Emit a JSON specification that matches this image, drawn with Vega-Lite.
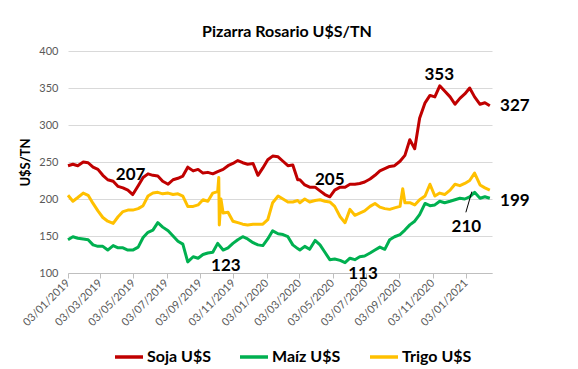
{
  "$schema": "https://vega.github.io/schema/vega-lite/v6.json",
  "width": 424,
  "height": 222,
  "autosize": {"type": "none"},
  "padding": {"left": 68, "top": 51, "right": 86, "bottom": 96},
  "background": "white",
  "config": {"view": {"stroke": null}, "font": "Lato", "axis": {"labelOverlap": false}},
  "title": {"text": "Pizarra Rosario U$S/TN", "fontSize": 16, "font": "Lato", "fontWeight": "bold", "color": "black", "anchor": "middle", "offset": 5, "dx": 7},
  "encoding": {
    "x": {
      "field": "fecha", "type": "temporal",
      "scale": {"type": "utc", "domain": [{"year": 2019, "month": 1, "date": 3, "utc": true}, {"year": 2021, "month": 2, "date": 20, "utc": true}]},
      "axis": {
        "values": [
          {"year": 2019, "month": 1, "date": 3, "utc": true},
          {"year": 2019, "month": 3, "date": 3, "utc": true},
          {"year": 2019, "month": 5, "date": 3, "utc": true},
          {"year": 2019, "month": 7, "date": 3, "utc": true},
          {"year": 2019, "month": 9, "date": 3, "utc": true},
          {"year": 2019, "month": 11, "date": 3, "utc": true},
          {"year": 2020, "month": 1, "date": 3, "utc": true},
          {"year": 2020, "month": 3, "date": 3, "utc": true},
          {"year": 2020, "month": 5, "date": 3, "utc": true},
          {"year": 2020, "month": 7, "date": 3, "utc": true},
          {"year": 2020, "month": 9, "date": 3, "utc": true},
          {"year": 2020, "month": 11, "date": 3, "utc": true},
          {"year": 2021, "month": 1, "date": 3, "utc": true}
        ],
        "labelExpr": "utcFormat(datum.value, '%d/%m/%Y')",
        "labelAngle": -45, "labelAlign": "right", "labelBaseline": "middle",
        "labelPadding": 3, "tickSize": 5, "tickColor": "#BFBFBF", "domainColor": "#BFBFBF",
        "labelColor": "#595959", "labelFontSize": 11, "labelFont": "Lato",
        "grid": false, "title": null, "labelOverlap": false, "labelFlush": false, "labelBound": false
      }
    },
    "y": {
      "field": "valor", "type": "quantitative",
      "scale": {"domain": [100, 400], "zero": false, "nice": false},
      "axis": {
        "values": [100, 150, 200, 250, 300, 350, 400],
        "title": "U$S/TN", "titleFontSize": 13, "titleFontWeight": "bold", "titleColor": "black", "titleFont": "Lato", "titlePadding": 6,
        "labelColor": "#595959", "labelFontSize": 11, "labelFont": "Lato", "labelPadding": 10,
        "ticks": false, "domain": false, "grid": true, "gridColor": "#D9D9D9", "gridWidth": 1
      }
    }
  },
  "layer": [
    {
      "data": {"values": [
        {"fecha": "2019-01-03", "Soja U$S": 245, "Maíz U$S": 145, "Trigo U$S": 205},
        {"fecha": "2019-01-12", "Soja U$S": 247, "Maíz U$S": 149, "Trigo U$S": 197},
        {"fecha": "2019-01-21", "Soja U$S": 245, "Maíz U$S": 147, "Trigo U$S": 202},
        {"fecha": "2019-01-31", "Soja U$S": 250, "Maíz U$S": 146, "Trigo U$S": 208},
        {"fecha": "2019-02-09", "Soja U$S": 249, "Maíz U$S": 145, "Trigo U$S": 205},
        {"fecha": "2019-02-18", "Soja U$S": 243, "Maíz U$S": 138, "Trigo U$S": 194},
        {"fecha": "2019-02-27", "Soja U$S": 240, "Maíz U$S": 136, "Trigo U$S": 184},
        {"fecha": "2019-03-08", "Soja U$S": 232, "Maíz U$S": 136, "Trigo U$S": 175},
        {"fecha": "2019-03-17", "Soja U$S": 226, "Maíz U$S": 131, "Trigo U$S": 170},
        {"fecha": "2019-03-27", "Soja U$S": 224, "Maíz U$S": 137, "Trigo U$S": 167},
        {"fecha": "2019-04-05", "Soja U$S": 217, "Maíz U$S": 134, "Trigo U$S": 176},
        {"fecha": "2019-04-14", "Soja U$S": 215, "Maíz U$S": 134, "Trigo U$S": 183},
        {"fecha": "2019-04-23", "Soja U$S": 212, "Maíz U$S": 131, "Trigo U$S": 185},
        {"fecha": "2019-05-02", "Soja U$S": 206, "Maíz U$S": 131, "Trigo U$S": 185},
        {"fecha": "2019-05-12", "Soja U$S": 218, "Maíz U$S": 135, "Trigo U$S": 187},
        {"fecha": "2019-05-21", "Soja U$S": 229, "Maíz U$S": 148, "Trigo U$S": 191},
        {"fecha": "2019-05-30", "Soja U$S": 234, "Maíz U$S": 155, "Trigo U$S": 204},
        {"fecha": "2019-06-08", "Soja U$S": 232, "Maíz U$S": 158, "Trigo U$S": 208},
        {"fecha": "2019-06-17", "Soja U$S": 231, "Maíz U$S": 168, "Trigo U$S": 209},
        {"fecha": "2019-06-26", "Soja U$S": 224, "Maíz U$S": 162, "Trigo U$S": 207},
        {"fecha": "2019-07-06", "Soja U$S": 220, "Maíz U$S": 157, "Trigo U$S": 208},
        {"fecha": "2019-07-15", "Soja U$S": 226, "Maíz U$S": 150, "Trigo U$S": 206},
        {"fecha": "2019-07-24", "Soja U$S": 228, "Maíz U$S": 143, "Trigo U$S": 207},
        {"fecha": "2019-08-02", "Soja U$S": 231, "Maíz U$S": 139, "Trigo U$S": 204},
        {"fecha": "2019-08-11", "Soja U$S": 243, "Maíz U$S": 115, "Trigo U$S": 190},
        {"fecha": "2019-08-21", "Soja U$S": 238, "Maíz U$S": 122, "Trigo U$S": 190},
        {"fecha": "2019-08-30", "Soja U$S": 240, "Maíz U$S": 120, "Trigo U$S": 192},
        {"fecha": "2019-09-08", "Soja U$S": 235, "Maíz U$S": 125, "Trigo U$S": 199},
        {"fecha": "2019-09-17", "Soja U$S": 236, "Maíz U$S": 127, "Trigo U$S": 197},
        {"fecha": "2019-09-26", "Soja U$S": 234, "Maíz U$S": 128, "Trigo U$S": 208},
        {"fecha": "2019-10-05", "Soja U$S": 237, "Maíz U$S": 140, "Trigo U$S": 210},
        {"fecha": "2019-10-07", "Trigo U$S": 229},
        {"fecha": "2019-10-08", "Trigo U$S": 165},
        {"fecha": "2019-10-11", "Trigo U$S": 200},
        {"fecha": "2019-10-15", "Soja U$S": 240, "Maíz U$S": 131, "Trigo U$S": 181},
        {"fecha": "2019-10-24", "Soja U$S": 245, "Maíz U$S": 134, "Trigo U$S": 182},
        {"fecha": "2019-11-02", "Soja U$S": 248, "Maíz U$S": 140, "Trigo U$S": 170},
        {"fecha": "2019-11-11", "Soja U$S": 252, "Maíz U$S": 145, "Trigo U$S": 168},
        {"fecha": "2019-11-20", "Soja U$S": 249, "Maíz U$S": 149, "Trigo U$S": 166},
        {"fecha": "2019-11-29", "Soja U$S": 247, "Maíz U$S": 146, "Trigo U$S": 165},
        {"fecha": "2019-12-09", "Soja U$S": 248, "Maíz U$S": 141, "Trigo U$S": 166},
        {"fecha": "2019-12-18", "Soja U$S": 232, "Maíz U$S": 138, "Trigo U$S": 166},
        {"fecha": "2019-12-27", "Soja U$S": 242, "Maíz U$S": 137, "Trigo U$S": 166},
        {"fecha": "2020-01-05", "Soja U$S": 253, "Maíz U$S": 146, "Trigo U$S": 172},
        {"fecha": "2020-01-14", "Soja U$S": 258, "Maíz U$S": 157, "Trigo U$S": 195},
        {"fecha": "2020-01-24", "Soja U$S": 257, "Maíz U$S": 153, "Trigo U$S": 204},
        {"fecha": "2020-02-02", "Soja U$S": 251, "Maíz U$S": 152, "Trigo U$S": 200},
        {"fecha": "2020-02-11", "Soja U$S": 245, "Maíz U$S": 149, "Trigo U$S": 196},
        {"fecha": "2020-02-20", "Soja U$S": 246, "Maíz U$S": 138, "Trigo U$S": 196},
        {"fecha": "2020-02-29", "Soja U$S": 226, "Maíz U$S": 133, "Trigo U$S": 198},
        {"fecha": "2020-03-04", "Soja U$S": 226, "Maíz U$S": 131, "Trigo U$S": 195},
        {"fecha": "2020-03-13", "Soja U$S": 219, "Maíz U$S": 136, "Trigo U$S": 200},
        {"fecha": "2020-03-22", "Soja U$S": 216, "Maíz U$S": 132, "Trigo U$S": 196},
        {"fecha": "2020-04-01", "Soja U$S": 216, "Maíz U$S": 144, "Trigo U$S": 198},
        {"fecha": "2020-04-10", "Soja U$S": 211, "Maíz U$S": 138, "Trigo U$S": 199},
        {"fecha": "2020-04-19", "Soja U$S": 206, "Maíz U$S": 128, "Trigo U$S": 197},
        {"fecha": "2020-04-28", "Soja U$S": 203, "Maíz U$S": 118, "Trigo U$S": 196},
        {"fecha": "2020-05-07", "Soja U$S": 212, "Maíz U$S": 119, "Trigo U$S": 190},
        {"fecha": "2020-05-17", "Soja U$S": 216, "Maíz U$S": 117, "Trigo U$S": 176},
        {"fecha": "2020-05-26", "Soja U$S": 216, "Maíz U$S": 114, "Trigo U$S": 168},
        {"fecha": "2020-06-04", "Soja U$S": 220, "Maíz U$S": 120, "Trigo U$S": 186},
        {"fecha": "2020-06-13", "Soja U$S": 220, "Maíz U$S": 118, "Trigo U$S": 178},
        {"fecha": "2020-06-22", "Soja U$S": 221, "Maíz U$S": 122, "Trigo U$S": 181},
        {"fecha": "2020-07-01", "Soja U$S": 223, "Maíz U$S": 123, "Trigo U$S": 184},
        {"fecha": "2020-07-11", "Soja U$S": 227, "Maíz U$S": 127, "Trigo U$S": 190},
        {"fecha": "2020-07-20", "Soja U$S": 232, "Maíz U$S": 131, "Trigo U$S": 194},
        {"fecha": "2020-07-29", "Soja U$S": 238, "Maíz U$S": 135, "Trigo U$S": 189},
        {"fecha": "2020-08-07", "Soja U$S": 241, "Maíz U$S": 132, "Trigo U$S": 187},
        {"fecha": "2020-08-16", "Soja U$S": 244, "Maíz U$S": 145, "Trigo U$S": 186},
        {"fecha": "2020-08-25", "Soja U$S": 245, "Maíz U$S": 149, "Trigo U$S": 188},
        {"fecha": "2020-09-04", "Soja U$S": 251, "Maíz U$S": 152, "Trigo U$S": 190},
        {"fecha": "2020-09-09", "Trigo U$S": 214},
        {"fecha": "2020-09-13", "Soja U$S": 259, "Maíz U$S": 158, "Trigo U$S": 195},
        {"fecha": "2020-09-22", "Soja U$S": 280, "Maíz U$S": 165, "Trigo U$S": 195},
        {"fecha": "2020-10-01", "Soja U$S": 268, "Maíz U$S": 170, "Trigo U$S": 192},
        {"fecha": "2020-10-10", "Soja U$S": 309, "Maíz U$S": 179, "Trigo U$S": 199},
        {"fecha": "2020-10-20", "Soja U$S": 330, "Maíz U$S": 194, "Trigo U$S": 204},
        {"fecha": "2020-10-29", "Soja U$S": 340, "Maíz U$S": 191, "Trigo U$S": 220},
        {"fecha": "2020-11-07", "Soja U$S": 338, "Maíz U$S": 192, "Trigo U$S": 204},
        {"fecha": "2020-11-16", "Soja U$S": 353, "Maíz U$S": 197, "Trigo U$S": 208},
        {"fecha": "2020-11-25", "Soja U$S": 346, "Maíz U$S": 195, "Trigo U$S": 206},
        {"fecha": "2020-12-05", "Soja U$S": 338, "Maíz U$S": 197, "Trigo U$S": 212},
        {"fecha": "2020-12-14", "Soja U$S": 328, "Maíz U$S": 199, "Trigo U$S": 220},
        {"fecha": "2020-12-23", "Soja U$S": 336, "Maíz U$S": 201, "Trigo U$S": 218},
        {"fecha": "2021-01-01", "Soja U$S": 342, "Maíz U$S": 200, "Trigo U$S": 221},
        {"fecha": "2021-01-10", "Soja U$S": 350, "Maíz U$S": 203, "Trigo U$S": 225},
        {"fecha": "2021-01-19", "Soja U$S": 338, "Maíz U$S": 209, "Trigo U$S": 235},
        {"fecha": "2021-01-29", "Soja U$S": 328, "Maíz U$S": 201, "Trigo U$S": 219},
        {"fecha": "2021-02-07", "Soja U$S": 330, "Maíz U$S": 203, "Trigo U$S": 215},
        {"fecha": "2021-02-16", "Soja U$S": 326, "Maíz U$S": 201, "Trigo U$S": 212}
      ]},
      "transform": [
        {"fold": ["Soja U$S", "Maíz U$S", "Trigo U$S"], "as": ["serie", "valor"]},
        {"filter": "isValid(datum.valor)"}
      ],
      "mark": {"type": "line", "strokeWidth": 3, "strokeJoin": "round"},
      "encoding": {
        "color": {
          "field": "serie", "type": "nominal",
          "scale": {"domain": ["Soja U$S", "Maíz U$S", "Trigo U$S"], "range": ["#C00000", "#00B050", "#FFC000"]},
          "legend": {
            "orient": "none", "legendX": 45, "legendY": 290, "direction": "horizontal", "title": null,
            "symbolType": "stroke", "symbolStrokeWidth": 3.5, "symbolSize": 784,
            "labelFontSize": 16, "labelFontWeight": "bold", "labelColor": "black", "labelFont": "Lato",
            "columnPadding": 22, "labelOffset": 2
          }
        }
      }
    },
    {
      "data": {"values": [
        {"fecha": "2019-04-28", "valor": 233, "t": "207"},
        {"fecha": "2019-10-20", "valor": 109, "t": "123"},
        {"fecha": "2020-04-28", "valor": 226, "t": "205"},
        {"fecha": "2020-06-28", "valor": 99, "t": "113"},
        {"fecha": "2020-11-15", "valor": 368, "t": "353"},
        {"fecha": "2021-04-03", "valor": 326, "t": "327"},
        {"fecha": "2021-04-03", "valor": 197, "t": "199"},
        {"fecha": "2021-01-04", "valor": 162, "t": "210"}
      ]},
      "mark": {"type": "text", "fontSize": 17, "fontWeight": "bold", "font": "Lato", "color": "black", "baseline": "middle", "align": "center"},
      "encoding": {
        "text": {"field": "t"}
      }
    },
    {
      "data": {"values": [
        {"fecha": "2021-01-03", "valor": 182, "fecha2": "2021-01-14", "valor2": 210}
      ]},
      "mark": {"type": "rule", "color": "black", "strokeWidth": 1},
      "encoding": {
        "x2": {"field": "fecha2"},
        "y2": {"field": "valor2"}
      }
    }
  ]
}
